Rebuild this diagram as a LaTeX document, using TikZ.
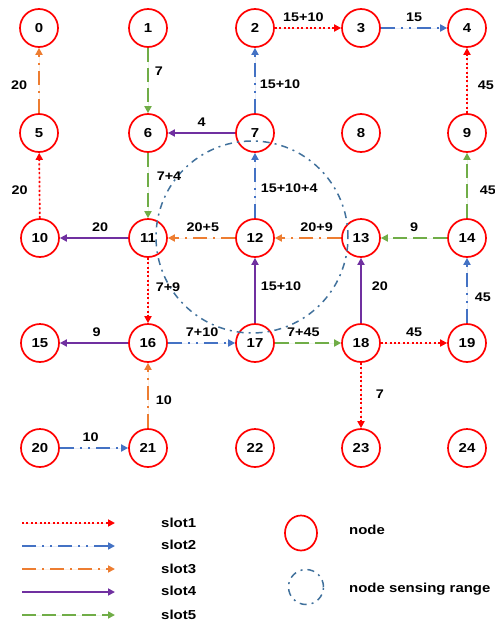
\documentclass[tikz,border=0pt]{standalone}
\usepackage{fontspec}
\setmainfont{Liberation Sans}[FakeStretch=1.15]
\usetikzlibrary{arrows.meta,shapes.geometric}
\definecolor{nodered}{HTML}{FF0000}
\definecolor{sblue}{HTML}{4472C4}
\definecolor{sorange}{HTML}{ED7D31}
\definecolor{spurple}{HTML}{7030A0}
\definecolor{sgreen}{HTML}{70AD47}
\definecolor{srange}{HTML}{41719C}
\tikzset{
  pt/.style={circle, draw=nodered, line width=1.7pt, minimum size=38pt, inner sep=0pt,
    font=\bfseries\fontsize{13}{13}\selectfont},
  link/.style={line width=1.7pt, -{Triangle[length=7pt,width=7pt]}},
  sone/.style={link, draw=red, fill=red, dash pattern=on 2pt off 2.4pt},
  stwo/.style={link, draw=sblue, fill=sblue, dash pattern=on 14pt off 6pt on 2pt off 6pt on 2pt off 6pt},
  sthree/.style={link, draw=sorange, fill=sorange, dash pattern=on 14pt off 6pt on 2pt off 6pt},
  sfour/.style={link, draw=spurple, fill=spurple},
  sfive/.style={link, draw=sgreen, fill=sgreen, dash pattern=on 14pt off 6pt},
  lab/.style={inner sep=1pt, text=black, font=\bfseries\fontsize{12.5}{12.5}\selectfont},
  leg/.style={inner sep=0pt, anchor=west, text=black, font=\bfseries\fontsize{13}{13}\selectfont},
  rangecirc/.style={draw=srange, line width=1.5pt, dash pattern=on 7pt off 5pt on 2pt off 5pt}
}
\begin{document}
\begin{tikzpicture}[x=1pt,y=-1pt]
\useasboundingbox (0,0) rectangle (495,624);

% grid of sensor nodes
\foreach \i/\x/\y in {0/39/28,1/148/28,2/255/28,3/361/28,4/467/28,
                      5/39/133,6/148/133,7/255/133,8/361/133,9/467/133,
                      10/40/238,11/148/238,12/255/238,13/361/238,14/467/238,
                      15/40/343,16/148/343,17/255/343,18/361/343,19/467/343,
                      20/40/448,21/148/448,22/255/448,23/361/448,24/467/448}
  \node[pt] (n\i) at (\x,\y) {\i};

% sensing range of node 12
\node[rangecirc, circle, minimum size=192pt, inner sep=0pt] (range) at (252,237) {};

% transmissions, vertical
\draw[sthree] (n5) -- node[lab, left=10pt, pos=0.43] {20} (n0);
\draw[sone]   (n10) -- node[lab, left=10pt, pos=0.43] {20} (n5);
\draw[sfive]  (n1) -- node[lab, right=5pt, pos=0.36] {7} (n6);
\draw[sfive]  (n6) -- node[lab, right=7pt, pos=0.36] {7+4} (n11);
\draw[stwo]   (n7) -- node[lab, right=3pt, pos=0.45] {15+10} (n2);
\draw[sone]   (n9) -- node[lab, right=9pt, pos=0.43] {45} (n4);
\draw[stwo]   (n12) -- node[lab, right=4pt, pos=0.46] {15+10+4} (n7);
\draw[sfive]  (n14) -- node[lab, right=11pt, pos=0.43] {45} (n9);
\draw[sone]   (n11) -- node[lab, right=6pt, pos=0.45] {7+9} (n16);
\draw[sfour]  (n17) -- node[lab, right=4pt, pos=0.57] {15+10} (n12);
\draw[sfour]  (n18) -- node[lab, right=9pt, pos=0.57] {20} (n13);
\draw[stwo]   (n19) -- node[lab, right=6pt, pos=0.4] {45} (n14);
\draw[sthree] (n21) -- node[lab, right=6pt, pos=0.43] {10} (n16);
\draw[sone]   (n18) -- node[lab, right=13pt, pos=0.48] {7} (n23);

% transmissions, horizontal
\draw[sfour]  (n7) -- node[lab, above=5pt, pos=0.5] {4} (n6);
\draw[sone]   (n2) -- node[lab, above=5pt, pos=0.43] {15+10} (n3);
\draw[stwo]   (n3) -- node[lab, above=5pt, pos=0.5] {15} (n4);
\draw[sfour]  (n11) -- node[lab, above=5pt, pos=0.41] {20} (n10);
\draw[sthree] (n12) -- node[lab, above=5pt, pos=0.48] {20+5} (n11);
\draw[sthree] (n13) -- node[lab, above=5pt, pos=0.37] {20+9} (n12);
\draw[sfive]  (n14) -- node[lab, above=5pt, pos=0.5] {9} (n13);
\draw[sfour]  (n16) -- node[lab, above=5pt, pos=0.46] {9} (n15);
\draw[stwo]   (n16) -- node[lab, above=5pt, pos=0.51] {7+10} (n17);
\draw[sfive]  (n17) -- node[lab, above=5pt, pos=0.43] {7+45} (n18);
\draw[sone]   (n18) -- node[lab, above=5pt, pos=0.5] {45} (n19);
\draw[stwo]   (n20) -- node[lab, above=5pt, pos=0.45] {10} (n21);

% legend
\coordinate (a1) at (22,523); \coordinate (b1) at (115,523);
\coordinate (a2) at (22,546); \coordinate (b2) at (115,546);
\coordinate (a3) at (22,569); \coordinate (b3) at (115,569);
\coordinate (a4) at (22,592); \coordinate (b4) at (115,592);
\coordinate (a5) at (22,615); \coordinate (b5) at (115,615);
\draw[sone]   (a1) -- (b1);
\draw[stwo]   (a2) -- (b2);
\draw[sthree] (a3) -- (b3);
\draw[sfour]  (a4) -- (b4);
\draw[sfive]  (a5) -- (b5);
\node[leg] (l1) at (161,523) {slot1};
\node[leg] (l2) at (161,545) {slot2};
\node[leg] (l3) at (161,569) {slot3};
\node[leg] (l4) at (161,591) {slot4};
\node[leg] (l5) at (161,615) {slot5};
\node[ellipse, draw=nodered, line width=1.7pt, minimum width=32pt, minimum height=35pt, inner sep=0pt] (lnode) at (301,533) {};
\node[rangecirc, circle, minimum size=35pt, inner sep=0pt] (lrange) at (306,587) {};
\node[leg] (tnode) at (349,530) {node};
\node[leg] (trange) at (349,589) {node sensing range};
\end{tikzpicture}
\end{document}
